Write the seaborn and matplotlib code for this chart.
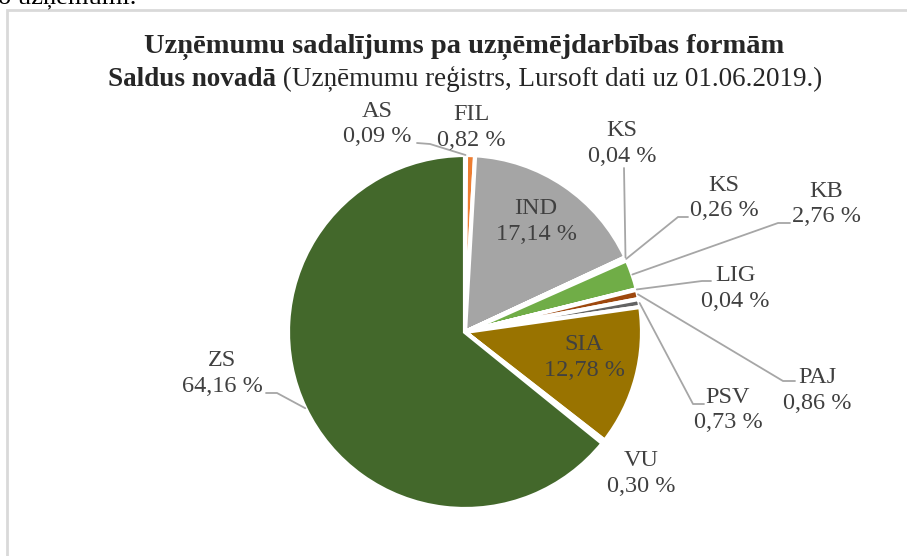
import numpy as np
import matplotlib
matplotlib.use("Agg")
import matplotlib.pyplot as plt
import seaborn as sns

# ── Dati ──────────────────────────────────────────────────────────
FORMS  = ["AS", "FIL", "IND", "KS", "KS", "KB", "LIG", "PAJ", "PSV", "SIA", "VU", "ZS"]
SHARES = [0.09, 0.82, 17.14, 0.04, 0.26, 2.76, 0.04, 0.86, 0.73, 12.78, 0.30, 64.16]
COLORS = ["#4472C4", "#ED7D31", "#A5A5A5", "#FFC000", "#5B9BD5", "#70AD47",
          "#264478", "#9E480E", "#636363", "#997300", "#255E91", "#43682B"]
TITLE_1   = "Uzņēmumu sadalījums pa uzņēmējdarbības formām"
TITLE_2B  = "Saldus novadā"
TITLE_2R  = " (Uzņēmumu reģistrs, Lursoft dati uz 01.06.2019.)"

# ── Izkārtojums (pikseļos, y no augšas) ───────────────────────────
W, H = 907, 556
CX, CY, R = 465, 332, 177
# etiķetes centrs katrai daļai
LABEL_POS = [(377, 124), (471, 127.5), (536, 221.5), (622, 143.5), (724, 198),
             (826, 204), (735, 288.5), (817.5, 390.5), (728, 410), (584, 357.5),
             (641.5, 473.5), (222, 373.5)]
# līdera līnijas: (lūzuma punkts, gals pie teksta) vai None
LEADERS = [((430, 144), (417, 143)), None, None, (None, (624, 168)),
           ((678, 217), (688, 217)), ((778, 223), (790, 223)),
           ((702, 281), (711, 281)), ((783, 381), (795, 381)),
           ((693, 404), (704, 404)), None, None, ((277, 393), (266, 393))]

sns.set_theme(style="white")
plt.rcParams['font.family'] = ['Liberation Serif', 'DejaVu Serif']

fig = plt.figure(figsize=(W / 100, H / 100), dpi=100)
ax = fig.add_axes([0, 0, 1, 1])
Y = lambda y: H - y

ax.pie(SHARES, colors=sns.color_palette(COLORS), startangle=90, counterclock=False,
       center=(CX, Y(CY)), radius=R,
       wedgeprops=dict(edgecolor="white", linewidth=3))
ax.set_xlim(0, W); ax.set_ylim(0, H)
ax.set_aspect("auto")
ax.axis("off")

# rāmis
ax.plot([7, 7, W + 5], [Y(H + 5), Y(10), Y(10)], color="#D9D9D9", lw=2,
        solid_joinstyle="miter", clip_on=False)
# nogriezts dokumenta teksts augšā
ax.text(-2, Y(3), "o uzņēmumi.", fontsize=19, color="black", ha="left", va="baseline")

# virsraksts
ax.text(464, Y(47), TITLE_1, fontsize=20.5, weight="bold", ha="center", va="center")
t1 = ax.text(108, Y(80), TITLE_2B, fontsize=19.5, weight="bold", ha="left", va="center")
ax.annotate(TITLE_2R, xy=(1, 0), xycoords=t1, fontsize=19.5, ha="left", va="bottom")

# etiķetes
cum = np.cumsum([0] + SHARES[:-1])
total = sum(SHARES)
for i, (name, v) in enumerate(zip(FORMS, SHARES)):
    mid = 90 - (cum[i] + v / 2) / total * 360
    ex = CX + R * np.cos(np.radians(mid))
    ey = CY - R * np.sin(np.radians(mid))
    pct = f"{v:.2f}".replace(".", ",") + " %"
    lx, ly = LABEL_POS[i]
    ax.text(lx, Y(ly), f"{name}\n{pct}", fontsize=17.5, color="#404040",
            ha="center", va="center", linespacing=1.3)
    if LEADERS[i] is not None:
        elbow, end = LEADERS[i]
        pts = [(ex, ey)] + ([elbow] if elbow else []) + [end]
        ax.plot([p[0] for p in pts], [Y(p[1]) for p in pts], color="#A6A6A6", lw=1.3)

fig.savefig("out.png", dpi=100)
